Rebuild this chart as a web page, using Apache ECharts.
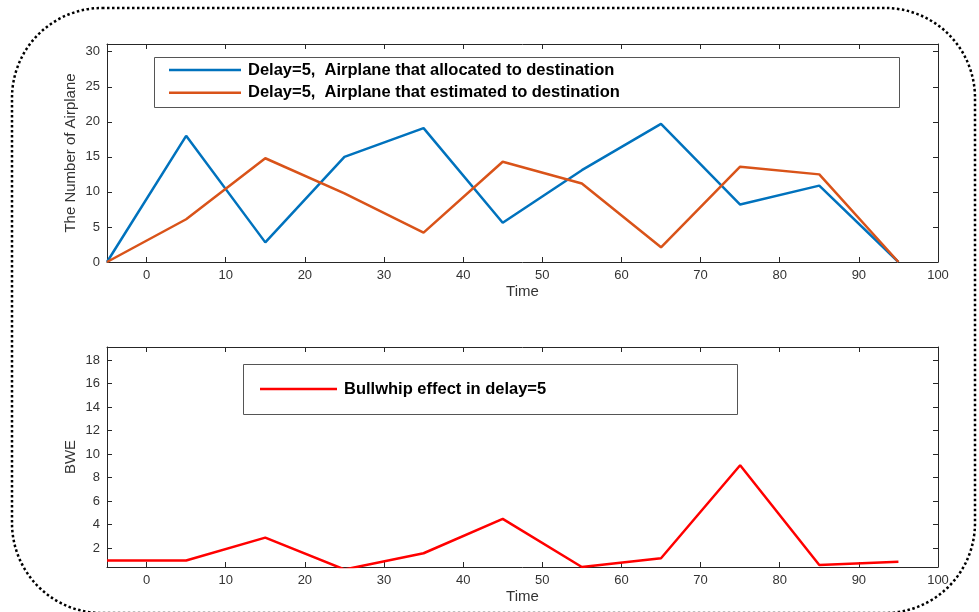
<!DOCTYPE html>
<html>
<head>
<meta charset="utf-8">
<script src="https://cdn.jsdelivr.net/npm/echarts@6/dist/echarts.min.js"></script>
<style>
  html, body { margin: 0; padding: 0; background: #fff; }
  #main { width: 979px; height: 612px; }
</style>
</head>
<body>
<div id="main"></div>
<script>
// time steps (x) and values
var timeSteps = [-5, 5, 15, 25, 35, 45, 55, 65, 75, 85, 95];
var allocated = [0, 18.0, 2.8, 15.0, 19.1, 5.6, 13.1, 19.7, 8.2, 10.9, 0];
var estimated = [0, 6.1, 14.8, 9.8, 4.2, 14.3, 11.2, 2.1, 13.6, 12.5, 0];
var bwe = [0.93, 0.93, 2.88, 0.17, 1.55, 4.47, 0.38, 1.12, 9.04, 0.55, 0.83];

var xTicks = [0, 10, 20, 30, 40, 50, 60, 70, 80, 90, 100];
var topYTicks = [0, 5, 10, 15, 20, 25, 30];
var bwYTicks = [2, 4, 6, 8, 10, 12, 14, 16, 18];

var allocatedName = 'Delay=5,  Airplane that allocated to destination';
var estimatedName = 'Delay=5,  Airplane that estimated to destination';
var bweName = 'Bullwhip effect in delay=5';

function pairs(xs, ys) {
	var out = [];
	for (var i = 0; i < xs.length; i++) {
		out.push([xs[i], ys[i]]);
	}
	return out;
}

var axisColor = '#262626';
var labelColor = '#333';
var fontFamily = '"Liberation Sans", Arial, sans-serif';

// main x axis (with labels) and the mirror on top of the box
function xAxisFor(gridIndex, main) {
	return {
		type: 'value', gridIndex: gridIndex, position: main ? 'bottom' : 'top',
		min: -5, max: 100,
		name: main ? 'Time' : '', nameLocation: 'middle', nameGap: 22,
		nameTextStyle: { color: labelColor, fontSize: 15, fontFamily: fontFamily },
		axisLine: { show: true, onZero: false, lineStyle: { color: axisColor, width: 1 } },
		axisTick: { show: true, inside: true, length: 5, customValues: xTicks, lineStyle: { color: axisColor } },
		axisLabel: { show: main, customValues: xTicks, margin: 7, color: labelColor, fontSize: 13, fontFamily: fontFamily },
		splitLine: { show: false }
	};
}

function yAxisFor(gridIndex, main, min, max, ticks, name) {
	return {
		type: 'value', gridIndex: gridIndex, position: main ? 'left' : 'right',
		min: min, max: max,
		name: main ? name : '', nameLocation: 'middle', nameGap: 29, nameMoveOverlap: false,
		nameTextStyle: { color: labelColor, fontSize: 15, fontFamily: fontFamily },
		axisLine: { show: true, onZero: false, lineStyle: { color: axisColor, width: 1 } },
		axisTick: { show: true, inside: true, length: 5, customValues: ticks, lineStyle: { color: axisColor } },
		axisLabel: { show: main, customValues: ticks, margin: 7, color: labelColor, fontSize: 13, fontFamily: fontFamily },
		splitLine: { show: false }
	};
}

var chart = echarts.init(document.getElementById('main'), null, { renderer: 'canvas' });

var legendText = { color: '#000', fontSize: 16.5, lineHeight: 17, fontWeight: 'bold', fontFamily: fontFamily, padding: [0, 0, 0, 2] };

var option = {
	backgroundColor: '#fff',
	animation: false,
	grid: [
		{ left: 107, right: 41, top: 44, height: 218 },
		{ left: 107, right: 41, top: 347, height: 220 }
	],
	xAxis: [
		xAxisFor(0, true), xAxisFor(0, false),
		xAxisFor(1, true), xAxisFor(1, false)
	],
	yAxis: [
		yAxisFor(0, true, 0, 31.1, topYTicks, 'The Number of Airplane'),
		yAxisFor(0, false, 0, 31.1, topYTicks, ''),
		yAxisFor(1, true, 0.38, 19.1, bwYTicks, 'BWE'),
		yAxisFor(1, false, 0.38, 19.1, bwYTicks, '')
	],
	legend: [
		{
			data: [allocatedName, estimatedName],
			orient: 'vertical', left: 169, top: 61.5, padding: 0,
			icon: 'rect', itemWidth: 72, itemHeight: 2.5, itemGap: 5.7, z: 10,
			textStyle: legendText
		},
		{
			data: [bweName],
			orient: 'vertical', left: 260, top: 380.5, padding: 0,
			icon: 'rect', itemWidth: 77, itemHeight: 2.5, z: 10,
			textStyle: legendText
		}
	],
	graphic: [
		{
			type: 'rect', z: 5,
			shape: { x: 154.5, y: 57.5, width: 745, height: 50 },
			style: { fill: '#fff', stroke: '#555', lineWidth: 1 }
		},
		{
			type: 'rect', z: 5,
			shape: { x: 243.5, y: 364.5, width: 494, height: 50 },
			style: { fill: '#fff', stroke: '#555', lineWidth: 1 }
		},
		{
			type: 'rect', z: 20, silent: true,
			shape: { x: 12, y: 8, width: 963, height: 605, r: 90 },
			style: { fill: 'none', stroke: '#000', lineWidth: 2.5, lineDash: [2.5, 2.5] }
		}
	],
	series: [
		{
			name: allocatedName, type: 'line', xAxisIndex: 0, yAxisIndex: 0,
			data: pairs(timeSteps, allocated), symbol: 'none', clip: true,
			lineStyle: { color: '#0072BD', width: 2.5 }, itemStyle: { color: '#0072BD' }
		},
		{
			name: estimatedName, type: 'line', xAxisIndex: 0, yAxisIndex: 0,
			data: pairs(timeSteps, estimated), symbol: 'none', clip: true,
			lineStyle: { color: '#D95319', width: 2.5 }, itemStyle: { color: '#D95319' }
		},
		{
			name: bweName, type: 'line', xAxisIndex: 2, yAxisIndex: 2,
			data: pairs(timeSteps, bwe), symbol: 'none', clip: true,
			lineStyle: { color: '#FF0000', width: 2.5 }, itemStyle: { color: '#FF0000' }
		}
	]
};

chart.setOption(option);
</script>
</body>
</html>
